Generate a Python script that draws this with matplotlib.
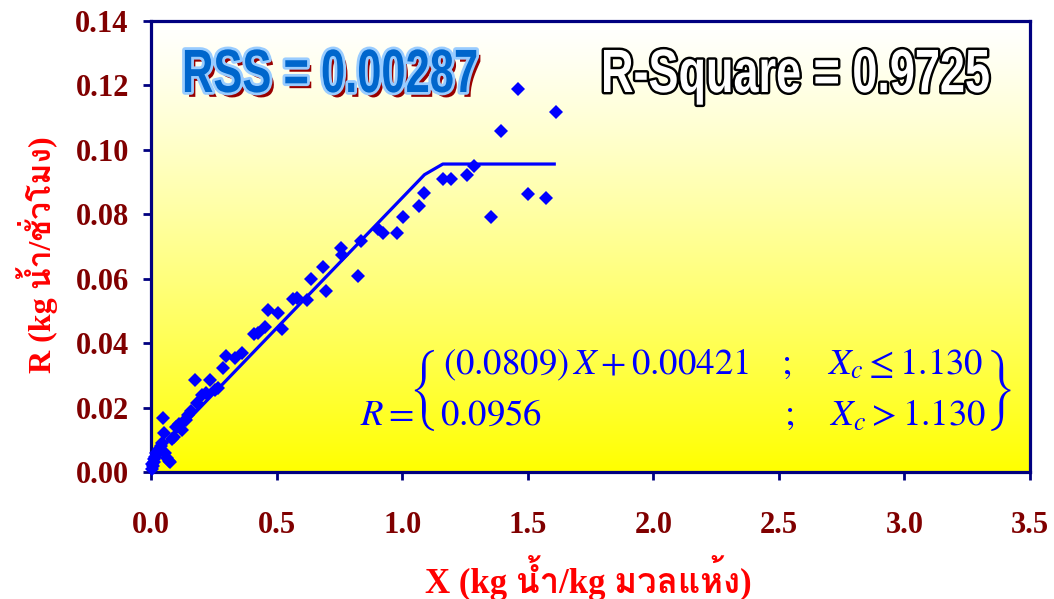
import numpy as np
import matplotlib
matplotlib.use("Agg")
import matplotlib.pyplot as plt
import matplotlib.patheffects as pe
from matplotlib import font_manager as fm
from matplotlib.ft2font import FT2Font
from matplotlib.transforms import Affine2D
from matplotlib.mathtext import MathTextParser

# ---------------- data ----------------
x_data = [0.003, 0.005, 0.008, 0.010, 0.012, 0.016, 0.020, 0.025, 0.030, 0.036,
          0.040, 0.045, 0.052, 0.056, 0.049, 0.065, 0.073, 0.076, 0.082, 0.090,
          0.100, 0.110, 0.122, 0.129, 0.140, 0.149, 0.160, 0.175, 0.182, 0.202,
          0.220, 0.235, 0.255, 0.265, 0.288, 0.299, 0.335, 0.361, 0.412, 0.425,
          0.454, 0.467, 0.507, 0.523, 0.567, 0.580, 0.623, 0.636, 0.684, 0.697,
          0.758, 0.761, 0.826, 0.837, 0.905, 0.925, 0.981, 1.003, 1.069, 1.089,
          1.162, 1.194, 1.260, 1.287, 1.353, 1.394, 1.463, 1.503, 1.571, 1.612]
y_data = [0.0010, 0.0025, 0.0018, 0.0040, 0.0030, 0.0047, 0.0060, 0.0055, 0.0070, 0.0068,
          0.0080, 0.0090, 0.0120, 0.0058, 0.0167, 0.0045, 0.0035, 0.0032, 0.0102, 0.0110,
          0.0139, 0.0150, 0.0130, 0.0156, 0.0160, 0.0177, 0.0190, 0.0286, 0.0213, 0.0239,
          0.0245, 0.0286, 0.0255, 0.0262, 0.0322, 0.0360, 0.0353, 0.0370, 0.0427, 0.0432,
          0.0451, 0.0503, 0.0493, 0.0443, 0.0536, 0.0540, 0.0534, 0.0600, 0.0636, 0.0562,
          0.0695, 0.0673, 0.0609, 0.0718, 0.0755, 0.0741, 0.0742, 0.0793, 0.0826, 0.0865,
          0.0909, 0.0909, 0.0923, 0.0949, 0.0792, 0.1057, 0.1188, 0.0864, 0.0851, 0.1116]
line_x = [0.0, 1.089, 1.162, 1.612]
line_y = [0.0042, 0.0923, 0.0956, 0.0956]

x_ticks = [0.0, 0.5, 1.0, 1.5, 2.0, 2.5, 3.0, 3.5]
y_ticks = [0.00, 0.02, 0.04, 0.06, 0.08, 0.10, 0.12, 0.14]
x_label = "X (kg น้ำ/kg มวลแห้ง)"
y_label = "R (kg น้ำ/ชั่วโมง)"
rss_text = "RSS = 0.00287"
r2_text = "R-Square = 0.9725"
eq_line1 = r"(0.0809)\,X+0.00421\quad\,;\quad\,X_c\leq1.130"
eq_line2 = r"0.0956\hspace{9.0}\,;\quad\,X_c>1.130"

# ---------------- fonts ----------------
def thai_fonts():
    found, seen = [], set()
    for f in fm.fontManager.ttflist:
        if f.name in seen:
            continue
        try:
            cmap = FT2Font(f.fname).get_charmap()
        except Exception:
            continue
        if 0x0E19 in cmap and 0x0E49 in cmap:
            found.append(f.name)
            seen.add(f.name)
    return found

th = thai_fonts()
serif_fam = ["Liberation Serif"] + th + ["DejaVu Serif", "DejaVu Sans"]
plt.rcParams["mathtext.fontset"] = "stix"


class Reshape(pe.AbstractPathEffect):
    """Draws the wrapped effects with the glyphs scaled about the text origin."""
    def __init__(self, sx, sy, effects):
        super().__init__()
        self.sx = sx
        self.sy = sy
        self.effects = effects

    def draw_path(self, renderer, gc, tpath, affine, rgbFace=None):
        a = Affine2D().scale(self.sx, self.sy) + affine
        for e in self.effects:
            e.draw_path(renderer, gc, tpath, a, rgbFace)


def math_ok(s):
    try:
        MathTextParser("path").parse(s, 72, fm.FontProperties(size=12))
        return True
    except Exception:
        return False


DARKRED = "#800000"
NAVY = "#000080"

fig = plt.figure(figsize=(10.54, 5.99), dpi=100)
ax = fig.add_axes([151/1054, 1-472/599, (1030-151)/1054, (472-21)/599])

# gradient background
t = np.linspace(0, 1, 256).reshape(-1, 1) ** 1.2
grad = np.ones((256, 1, 3))
grad[..., 2] = 1.0 - t
ax.imshow(grad, extent=[0, 3.5, 0, 0.14], aspect="auto", origin="upper", zorder=0)

ax.plot(line_x, line_y, color="#0000FF", lw=2.3, zorder=3, solid_capstyle="butt")
ax.plot(x_data, y_data, linestyle="none", marker="D", ms=7, color="#0000FF",
        markeredgewidth=0, zorder=4, clip_on=False)

ax.set_xlim(0, 3.5)
ax.set_ylim(0, 0.14)
ax.set_xticks(x_ticks)
ax.set_yticks(y_ticks)
ax.set_xticklabels([f"{v:.1f}" for v in x_ticks])
ax.set_yticklabels([f"{v:.2f}" for v in y_ticks])
for s in ax.spines.values():
    s.set_color(NAVY)
    s.set_linewidth(2.3)
ax.tick_params(axis="both", direction="out", length=6, width=2, color=NAVY,
               labelcolor=DARKRED)
ax.tick_params(axis="x", pad=22)
ax.tick_params(axis="y", pad=10)
for lab in ax.get_xticklabels() + ax.get_yticklabels():
    lab.set_fontfamily(serif_fam)
    lab.set_fontweight("bold")
    lab.set_fontsize(22)

fig.text(588/1054, 1-578/599, x_label, color="#FF0000", fontsize=25,
         fontweight="bold", family=serif_fam, ha="center", va="center")
fig.text(37/1054, 1-255/599, y_label, color="#FF0000", fontsize=23,
         fontweight="bold", family=serif_fam, ha="center", va="center",
         rotation=90)

sans_fam = ["Liberation Sans", "DejaVu Sans"]
base_fs = 30
rss = fig.text(182/1054, 1-92/599, rss_text, color="#0066CC", fontsize=base_fs,
               fontweight="bold", family=sans_fam, ha="left", va="baseline")
r2 = fig.text(601/1054, 1-92/599, r2_text, color="white", fontsize=base_fs,
              fontweight="bold", family=sans_fam, ha="left", va="baseline")

renderer = fig.canvas.get_renderer()
sy = 44.0 / base_fs
sx_rss = 296 / rss.get_window_extent(renderer).width
sx_r2 = 389 / r2.get_window_extent(renderer).width
rss.set_path_effects([Reshape(sx_rss, sy, [
    pe.SimplePatchShadow(offset=(3, -3.5), shadow_rgbFace="#990000", alpha=1.0),
    pe.Stroke(linewidth=4, foreground="#99CCFF"),
    pe.Normal()])])
r2.set_path_effects([Reshape(sx_r2, sy, [
    pe.Stroke(linewidth=3.5, foreground="black"),
    pe.Normal()])])

eq = (r"$R=\!\!\left\{\substack{" + eq_line1 + r"\\\hspace{0.1}\\\hspace{0.1}\\\hspace{0.1}\\"
      + eq_line2 + r"}\right\}$")
if not math_ok(eq):
    eq = (r"$R=\left\{\genfrac{}{}{0}{0}{" + eq_line1 + "}{" + eq_line2 + r"}\right\}$")
fig.text(360/1054, 1-390/599, eq, color="#0000FF", fontsize=26.5,
         ha="left", va="center")

fig.savefig("out.png", dpi=100)
